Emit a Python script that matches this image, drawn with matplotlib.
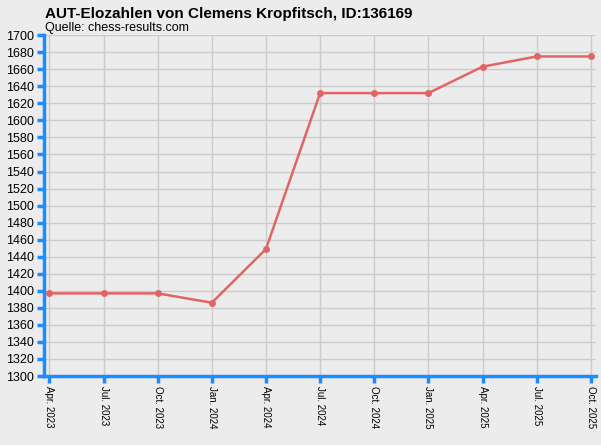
import matplotlib
matplotlib.use("Agg")
import matplotlib.pyplot as plt

dates = ["Apr. 2023","Jul. 2023","Oct. 2023","Jan. 2024","Apr. 2024","Jul. 2024",
         "Oct. 2024","Jan. 2025","Apr. 2025","Jul. 2025","Oct. 2025"]
elo = [1397,1397,1397,1386,1449,1632,1632,1632,1663,1675,1675]
yticks = list(range(1300,1701,20))

bg = "#ececec"
blue = "#1e8cff"
fig = plt.figure(figsize=(6.01,4.45), dpi=100, facecolor=bg)
ax = fig.add_axes([0.0732,0.155,0.9188,0.766], facecolor=bg)
x = list(range(len(dates)))
ax.plot(x, elo, color="#e06666", lw=1.8, marker="o", ms=4, zorder=3)
ax.set_xlim(-0.1, 10.1)
ax.set_ylim(1300,1700)
ax.set_yticks(yticks)
ax.set_yticklabels([str(v) for v in yticks], fontsize=9, family="Liberation Sans")
ax.set_xticks(x)
ax.set_xticklabels(dates, rotation=-90, fontsize=7, family="Liberation Sans")
ax.grid(True, color="#cccccc", lw=1)
ax.set_axisbelow(True)
for s in ["top","right"]:
    ax.spines[s].set_visible(False)
for s in ["left","bottom"]:
    ax.spines[s].set_color(blue); ax.spines[s].set_linewidth(2.5)
ax.tick_params(axis="both", color=blue, width=2.5, length=5, pad=2)
fig.text(0.075,0.96,"AUT-Elozahlen von Clemens Kropfitsch, ID:136169", fontsize=11,
         fontweight="bold", family="Liberation Sans")
fig.text(0.075,0.93,"Quelle: chess-results.com", fontsize=9, family="Liberation Sans")
fig.savefig("out.png", dpi=100, facecolor=bg)
